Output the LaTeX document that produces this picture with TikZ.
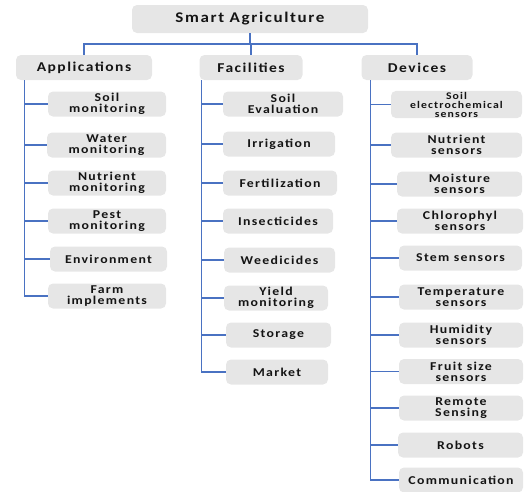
\documentclass[tikz,border=0pt]{standalone}
\usepackage{fontspec}
\setmainfont{Carlito}[FakeStretch=1.15,LetterSpace=11]
\begin{document}
\begin{tikzpicture}[x=1pt,y=-1pt,
  box/.style={fill=boxgrey, rounded corners=5pt, inner sep=1pt, align=center,
    font=\bfseries\fontsize{12}{11}\selectfont, text=textdark},
  head/.style={box, minimum height=25pt, font=\bfseries\fontsize{13.5}{14}\selectfont},
  root/.style={box, minimum height=28pt, font=\bfseries\fontsize{14.8}{15}\selectfont},
  leaf/.style={box, minimum height=25pt},
  conn/.style={draw=lineblue, line width=1.1pt}]
\definecolor{boxgrey}{HTML}{E6E6E6}
\definecolor{lineblue}{HTML}{4A72C2}
\definecolor{textdark}{HTML}{141414}
\useasboundingbox (0,0) rectangle (528,491);

% root and the three branches
\node[root, minimum width=236pt] (root) at (250,19) {Smart Agriculture};
\node[head, minimum width=136pt] (app) at (84,67.5) {Applications};
\node[head, minimum width=103pt] (fac) at (251,67.5) {Facilities};
\node[head, minimum width=111pt] (dev) at (417,67.5) {Devices};

\coordinate (bus) at (250,44);
\draw[conn] (root.south) -- (bus);
\draw[conn] (app.north) |- (bus) -| (dev.north);
\draw[conn] (bus) -| (fac.north);

% applications
\node[leaf, minimum width=118pt] (a1) at (107,104) {Soil\\monitoring};
\node[leaf, minimum width=119pt] (a2) at (106.5,145) {Water\\monitoring};
\node[leaf, minimum width=118pt] (a3) at (107,183) {Nutrient\\monitoring};
\node[leaf, minimum width=118pt] (a4) at (107,221) {Pest\\monitoring};
\node[leaf, minimum width=117pt] (a5) at (108.5,259) {Environment};
\node[leaf, minimum width=118pt] (a6) at (107,296) {Farm\\implements};

% facilities
\node[leaf, minimum width=120pt] (f1) at (283,104) {Soil\\Evaluation};
\node[leaf, minimum width=112pt] (f2) at (279,144) {Irrigation};
\node[leaf, minimum width=114pt] (f3) at (280,183) {Fertilization};
\node[leaf, minimum width=110pt] (f4) at (278,221) {Insecticides};
\node[leaf, minimum width=111pt] (f5) at (279.5,260) {Weedicides};
\node[leaf, minimum width=104pt] (f6) at (276,298) {Yield\\monitoring};
\node[leaf, minimum width=105pt] (f7) at (278.5,335) {Storage};
\node[leaf, minimum width=102pt] (f8) at (277,372) {Market};

% devices
\node[leaf, minimum width=131pt, font=\bfseries\fontsize{10.2}{9}\selectfont] (d1) at (456.5,104.5) {Soil\\electrochemical\\sensors};
\node[leaf, minimum width=131pt] (d2) at (456.5,145) {Nutrient\\sensors};
\node[leaf, minimum width=125pt] (d3) at (459.5,184) {Moisture\\sensors};
\node[leaf, minimum width=126pt] (d4) at (460,221) {Chlorophyl\\sensors};
\node[leaf, minimum width=123pt] (d5) at (460.5,258) {Stem sensors};
\node[leaf, minimum width=124pt] (d6) at (461,297) {Temperature\\sensors};
\node[leaf, minimum width=124pt] (d7) at (461,335) {Humidity\\sensors};
\node[leaf, minimum width=124pt] (d8) at (461,371.5) {Fruit size\\sensors};
\node[leaf, minimum width=124pt] (d9) at (461,408) {Remote\\Sensing};
\node[leaf, minimum width=125pt] (d10) at (460.5,445) {Robots};
\node[leaf, minimum width=124pt] (d11) at (461,480) {Communication};

% trunks with branches to each item
\coordinate (at) at ([xshift=9pt]app.south west);
\coordinate (ft) at ([xshift=2pt]fac.south west);
\coordinate (dt) at ([xshift=9pt]dev.south west);
\foreach \n in {a1,a2,a3,a4,a5,a6} \draw[conn] (at) |- (\n.west);
\foreach \n in {f1,f2,f3,f4,f5,f6,f7,f8} \draw[conn] (ft) |- (\n.west);
\foreach \n in {d1,d2,d3,d4,d5,d6,d7,d8,d9,d10,d11} \draw[conn] (dt) |- (\n.west);
\end{tikzpicture}
\end{document}
